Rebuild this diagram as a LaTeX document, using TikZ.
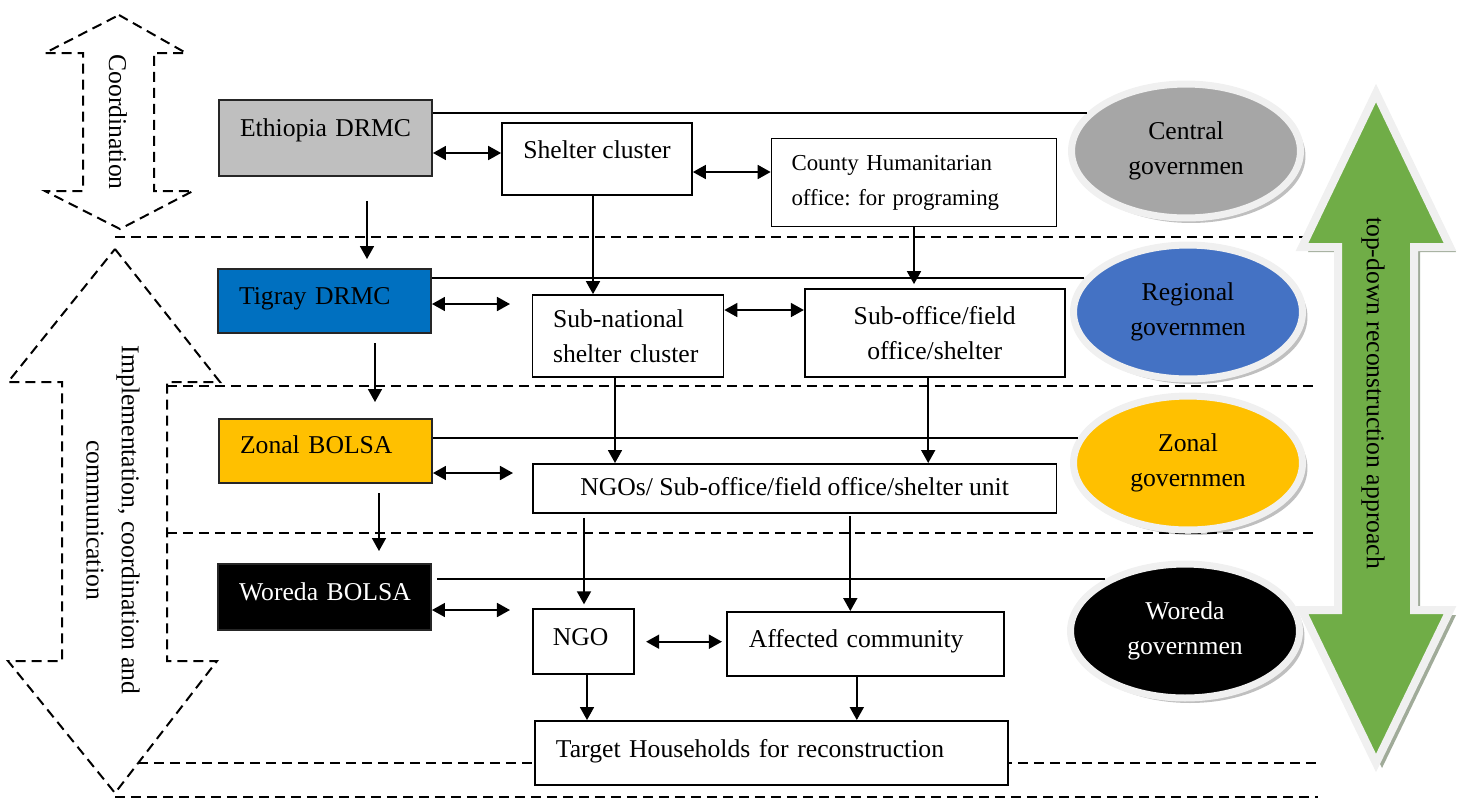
\documentclass[tikz,border=0pt]{standalone}
\usepackage{fontspec}
\setmainfont{Liberation Serif}
\usetikzlibrary{arrows.meta,shapes.geometric,shadows}

\definecolor{drmcgray}{RGB}{191,191,191}
\definecolor{drmcblue}{RGB}{0,112,192}
\definecolor{bolsayellow}{RGB}{255,192,0}
\definecolor{centralgray}{RGB}{166,166,166}
\definecolor{regionblue}{RGB}{68,114,196}
\definecolor{approachgreen}{RGB}{112,173,71}
\definecolor{rimgray}{RGB}{240,240,240}

\begin{document}
\begin{tikzpicture}[
    x=0.02cm, y=-0.02cm,
    font=\fontsize{14.6}{20}\selectfont\frenchspacing,
    agency/.style={draw=black!85, line width=0.04cm, align=left, text width=3.42cm, inner xsep=0.42cm, text height=0.66em, text depth=#1},
    unit/.style={draw, line width=0.035cm, fill=white},
    oneline/.style={text height=0.66em, text depth=#1},
    oneline/.default=0pt,
    gov/.style={ellipse, draw=rimgray, line width=0.14cm, minimum width=4.58cm, minimum height=2.68cm, align=center,
        drop shadow={shadow xshift=0.1cm, shadow yshift=-0.1cm, fill=black, opacity=0.25}},
    sep/.style={line width=0.04cm, dash pattern=on 0.2cm off 0.12cm},
    hollow/.style={sep, line join=miter},
    flow/.style={-{Triangle[length=0.26cm,width=0.28cm]}, line width=0.035cm},
    both/.style={{Triangle[length=0.26cm,width=0.28cm]}-{Triangle[length=0.26cm,width=0.28cm]}, line width=0.035cm},
    tie/.style={line width=0.04cm}
]
\useasboundingbox (0,0) rectangle (1466,799);

% Level separators
\draw[sep] (115,237) -- (1303,237);
\draw[sep] (167,386) -- (1318,386);
\draw[sep] (167,533) -- (1318,533);
\draw[sep] (138,763) -- (1318,763);
\draw[sep] (115,797) -- (1318,797);

% Side arrows
\draw[hollow] (119,15) -- (186,53) -- (154,53) -- (154,191) -- (193,191) -- (120,229) -- (45,191) -- (83,191) -- (83,53) -- (45,53) -- cycle;
\node[rotate=-90] (coord) at (118,122) {Coordination};
\draw[hollow] (115,249) -- (220,382) -- (167,382) -- (167,661) -- (217,661) -- (115,793) -- (8,661) -- (62,661) -- (62,382) -- (8,382) -- cycle;
\node[rotate=-90, align=center] (impl) at (113,520) {Implementation, coordination and\\communication};

\filldraw[fill=approachgreen, draw=rimgray, line width=0.16cm, line join=miter,
    drop shadow={shadow xshift=0.12cm, shadow yshift=-0.1cm, fill=black!60!approachgreen, opacity=0.45}]
  (1376,93) -- (1450,247) -- (1414,247) -- (1414,610) -- (1450,610) -- (1376,763)
  -- (1302,610) -- (1338,610) -- (1338,247) -- (1302,247) -- cycle;
\node[rotate=-90] (topdown) at (1373,393) {top-down reconstruction approach};

% Government offices
\node[agency=0.28cm, fill=drmcgray, minimum height=1.52cm] (eth) at (325.5,138) {Ethiopia~DRMC};
\node[agency=0.08cm, fill=drmcblue, minimum height=1.28cm] (tig) at (324.5,301) {Tigray~DRMC};
\node[agency=0.12cm, fill=bolsayellow, minimum height=1.28cm] (zon) at (325.5,451) {Zonal~BOLSA};
\node[agency=0.08cm, fill=black, text=white, minimum height=1.32cm] (wor) at (324.5,597) {Woreda~BOLSA};

% Humanitarian actors
\node[unit, oneline=0.24cm, minimum width=3.8cm, minimum height=1.44cm] (shelter) at (597,159) {Shelter cluster};
\node[unit, align=left, text width=4.9cm, inner xsep=0.4cm, minimum height=1.76cm,
    font=\fontsize{13}{20}\selectfont\frenchspacing] (county) at (914,182.5) {County Humanitarian\\office: for programing};
\node[unit, align=left, text width=3.0cm, inner xsep=0.41cm, minimum height=1.64cm] (subnat) at (628,336) {Sub-national\\shelter cluster};
\node[unit, align=center, minimum width=5.2cm, minimum height=1.76cm] (suboff) at (934.7,333) {Sub-office/field\\office/shelter};
\node[unit, text height=0.8em, text depth=0pt, minimum width=10.48cm, minimum height=0.98cm] (ngos) at (794.6,488.4) {NGOs/ Sub-office/field office/shelter unit};
\node[unit, oneline=0.08cm, align=left, text width=1.23cm, inner xsep=0.4cm, minimum height=1.3cm] (ngo) at (583.5,641.7) {NGO};
\node[unit, oneline=0.1cm, align=left, text width=4.66cm, inner xsep=0.44cm, minimum height=1.28cm] (affected) at (865.3,643.9) {Affected community};
\node[unit, oneline=0.06cm, align=left, text width=8.62cm, inner xsep=0.42cm, minimum height=1.28cm] (target) at (771.4,752.9) {Target Households for reconstruction};

% Government levels
\node[gov, fill=centralgray] (gov1) at (1186,151) {Central\\governmen};
\node[gov, fill=regionblue] (gov2) at (1188,312) {Regional\\governmen};
\node[gov, fill=bolsayellow] (gov3) at (1188,463) {Zonal\\governmen};
\node[gov, fill=black, text=white] (gov4) at (1185,631) {Woreda\\governmen};

% Level ties
\draw[tie] (gov1.159) -- (gov1.159 -| eth.east);
\draw[tie] (gov2.162) -- (gov2.162 -| tig.east);
\draw[tie] (gov3.167) -- (gov3.167 -| zon.east);
\draw[tie, shorten >=0.1cm] (gov4.147) -- (gov4.147 -| wor.east);

% Vertical flow
\draw[flow, shorten <=0.48cm, shorten >=0.18cm] ([xshift=0.83cm]eth.south) -- ([xshift=0.83cm]eth.south |- tig.north);
\draw[flow, shorten <=0.18cm, shorten >=0.32cm] ([xshift=1.01cm]tig.south) -- ([xshift=1.01cm]tig.south |- zon.north);
\draw[flow, shorten <=0.18cm, shorten >=0.24cm] ([xshift=1.07cm]zon.south) -- ([xshift=1.07cm]zon.south |- wor.north);
\draw[flow] ([xshift=-0.08cm]shelter.south) -- ([xshift=-0.08cm]shelter.south |- subnat.north);
\draw[flow, shorten >=0.08cm] (county.south) -- (county.south |- suboff.north);
\draw[flow] ([xshift=-0.26cm]subnat.south) -- ([xshift=-0.26cm]subnat.south |- ngos.north);
\draw[flow] ([xshift=-0.13cm]suboff.south) -- ([xshift=-0.13cm]suboff.south |- ngos.north);
\draw[flow, shorten <=0.08cm, shorten >=0.08cm] ([xshift=0.01cm]ngo.north |- ngos.south) -- ([xshift=0.01cm]ngo.north);
\draw[flow, shorten <=0.05cm] ([xshift=-0.3cm]affected.north |- ngos.south) -- ([xshift=-0.3cm]affected.north);
\draw[flow] ([xshift=0.07cm]ngo.south) -- ([xshift=0.07cm]ngo.south |- target.north);
\draw[flow] ([xshift=-0.17cm]affected.south) -- ([xshift=-0.17cm]affected.south |- target.north);

% Two-way links
\draw[both] ([yshift=-0.3cm]eth.east) -- ([yshift=-0.3cm]eth.east -| shelter.west);
\draw[both] ([yshift=-0.26cm]shelter.east) -- ([yshift=-0.26cm]shelter.east -| county.west);
\draw[both] ([yshift=-0.06cm]tig.east) -- ++(78,0);
\draw[both] ([yshift=0.52cm]subnat.east) -- ([yshift=0.52cm]subnat.east -| suboff.west);
\draw[both] ([yshift=-0.44cm]zon.east) -- ++(80,0);
\draw[both] ([yshift=-0.26cm]wor.east) -- ++(78,0);
\draw[both, shorten <=0.22cm, shorten >=0.08cm] (ngo.east) -- (ngo.east -| affected.west);
\end{tikzpicture}
\end{document}
